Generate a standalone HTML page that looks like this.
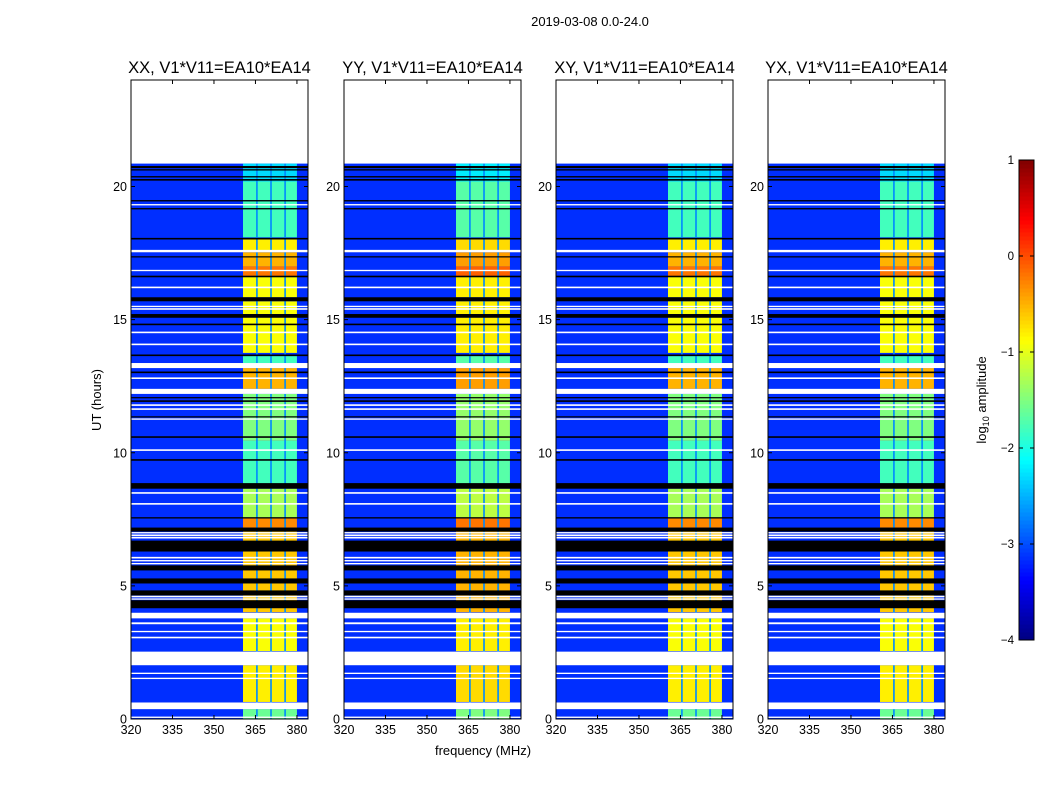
<!DOCTYPE html>
<html><head><meta charset="utf-8">
<style>
body{margin:0;background:#fff;font-family:"Liberation Sans",sans-serif;}
svg text{font-family:"Liberation Sans",sans-serif;}
</style></head>
<body>
<svg id="fig" width="1050" height="800" xmlns="http://www.w3.org/2000/svg">
<rect width="1050" height="800" fill="#fff"/>
<text x="590" y="26" font-size="13" text-anchor="middle">2019-03-08 0.0-24.0</text>
<text transform="translate(101,400) rotate(-90)" font-size="13" text-anchor="middle">UT (hours)</text>
<text x="483" y="755" font-size="13" text-anchor="middle">frequency (MHz)</text>
<g id="panels"></g>
<g id="cbar"></g>
</svg>
<script>
const panelTitles=["XX, V1*V11=EA10*EA14","YY, V1*V11=EA10*EA14","XY, V1*V11=EA10*EA14","YX, V1*V11=EA10*EA14"];
const panelBandOffset=[0,0.1,0,0];
const bgLevel=-3.15;
const dataEnd=20.86;
const bandFreqStart=360.5, bandFreqEnd=380;
const bandGapFreqs=[365.2,370.3,375.4];
const xTicks=[320,335,350,365,380];
const yTicks=[0,5,10,15,20];
const cbTicks=[1,0,-1,-2,-3,-4];
const cbTickLabels=["1","0","\u22121","\u22122","\u22123","\u22124"];
const bandStart=[0,0.64,2.55,4.01,7.19,7.57,8.84,10.45,12.40,13.37,13.75,15.21,15.84,16.63,17.0,17.60,18.09,20.19];
const bandEnd=[0.37,2.02,3.78,7.04,7.53,8.65,10.45,12.21,13.18,13.63,15.09,15.69,16.63,17.0,17.53,18.01,20.19,20.86];
const bandLevel=[-1.6,-0.8,-0.9,-0.6,-0.3,-1.3,-1.8,-1.5,-0.5,-1.8,-0.9,-0.9,-0.9,-0.2,-0.5,-0.8,-1.8,-2.3];
const flagStart=[20.69,20.60,20.34,20.22,19.44,19.29,19.14,18.01,17.53,17.34,16.82,16.59,16.18,15.69,15.47,15.37,15.07,14.79,14.49,14.04,13.63,13.18,12.99,12.77,12.21,12.06,11.91,11.76,11.61,11.33,11.24,10.56,10.07,9.70,8.65,8.46,8.05,7.53,7.04,6.97,6.87,6.78,6.29,6.03,5.92,5.81,5.58,5.09,4.64,4.57,4.48,4.16,3.78,3.56,3.26,3.03,2.02,1.69,1.50,0.37,0.04];
const flagEnd=[20.77,20.65,20.39,20.28,19.49,19.34,19.19,18.07,17.62,17.38,16.87,16.65,16.24,15.84,15.52,15.43,15.21,14.85,14.55,14.10,13.69,13.37,13.05,12.83,12.40,12.09,11.97,11.82,11.67,11.37,11.29,10.62,10.13,9.76,8.86,8.52,8.11,7.58,7.19,7.02,6.93,6.84,6.70,6.09,5.97,5.86,5.77,5.28,4.83,4.63,4.53,4.46,3.99,3.63,3.31,3.09,2.53,1.74,1.55,0.62,0.09];
const flagType=["k","k","k","k","k","w","k","k","w","k","w","k","w","k","w","w","k","k","w","w","k","w","k","w","w","k","k","w","w","k","w","k","w","k","k","w","w","k","k","w","w","w","k","w","w","w","k","k","k","w","w","k","w","w","w","w","w","w","w","w","w"];

const NS="http://www.w3.org/2000/svg";
function jet(v){let t=Math.max(0,Math.min(1,(v+4)/5));
 const f=x=>Math.max(0,Math.min(1,x));
 const r=f(1.5-Math.abs(4*t-3)),g=f(1.5-Math.abs(4*t-2)),b=f(1.5-Math.abs(4*t-1));
 return `rgb(${Math.round(r*255)},${Math.round(g*255)},${Math.round(b*255)})`;}
function el(tag,attrs,parent){const e=document.createElementNS(NS,tag);for(const k in attrs)e.setAttribute(k,attrs[k]);parent.appendChild(e);return e;}
const panelX=[131,344,556,768], PW=177, PT=80, PB=719;
const root=document.getElementById('panels');
panelX.forEach((x0,pi)=>{
 const g=el('g',{},root);
 
 
 const xs=f=>x0+(f-320)/64*PW;
 const ys=h=>PB-(h/24)*(PB-PT);
 el('rect',{x:x0,y:ys(dataEnd),width:PW,height:PB-ys(dataEnd),fill:jet(bgLevel)},g);
 for(let i=0;i<bandStart.length;i++){
  const r=el('rect',{x:xs(bandFreqStart),y:ys(bandEnd[i]),width:xs(bandFreqEnd)-xs(bandFreqStart),height:ys(bandStart[i])-ys(bandEnd[i]),fill:jet(bandLevel[i]+panelBandOffset[pi])},g);
  
  
 }
 bandGapFreqs.forEach(f=>{el('rect',{x:xs(f),y:ys(dataEnd),width:1.8,height:PB-ys(dataEnd),fill:jet(-2.7),opacity:0.9},g);});
 for(let i=0;i<flagStart.length;i++){
  const r=el('rect',{x:x0,y:ys(flagEnd[i]),width:PW,height:Math.max(1.2,ys(flagStart[i])-ys(flagEnd[i])),fill:flagType[i]==='w'?'#fff':'#000'},g);
  
  
 }
 el('rect',{x:x0,y:PT,width:PW,height:PB-PT,fill:'none',stroke:'#000','stroke-width':1},g);
 xTicks.forEach(t=>{const x=xs(t);
  el('line',{x1:x,x2:x,y1:PB,y2:PB-4,stroke:'#000'},g);
  el('line',{x1:x,x2:x,y1:PT,y2:PT+4,stroke:'#000'},g);
  const tx=el('text',{x:x,y:PB+15,'font-size':12.5,'text-anchor':'middle'},g);tx.textContent=t;
  
  });
 yTicks.forEach(t=>{const y=ys(t);
  el('line',{x1:x0,x2:x0+4,y1:y,y2:y,stroke:'#000'},g);
  el('line',{x1:x0+PW,x2:x0+PW-4,y1:y,y2:y,stroke:'#000'},g);
  const tx=el('text',{x:x0-4,y:y+4.5,'font-size':12.5,'text-anchor':'end'},g);tx.textContent=t;
  
  });
 const tt=el('text',{x:x0+PW/2,y:PT-7,'font-size':16.5,'text-anchor':'middle'},g);tt.textContent=panelTitles[pi];
 
 
});
const cb=document.getElementById('cbar');
const cx=1019,cw=15,cy0=160,cy1=640;
const cs=v=>cy1-(v+4)/5*(cy1-cy0);
for(let i=0;i<120;i++){const v0=-4+i*5/120,v1=-4+(i+1)*5/120;
 el('rect',{x:cx,y:cs(v1),width:cw,height:cs(v0)-cs(v1)+0.5,fill:jet((v0+v1)/2)},cb);}
el('rect',{x:cx,y:cy0,width:cw,height:cy1-cy0,fill:'none',stroke:'#000'},cb);
cbTicks.forEach((t,i)=>{const y=cs(t);
 el('line',{x1:cx,x2:cx+4,y1:y,y2:y,stroke:'#000'},cb);
 el('line',{x1:cx+cw,x2:cx+cw-4,y1:y,y2:y,stroke:'#000'},cb);
 const tx=el('text',{x:cx-5,y:y+4,'font-size':11.5,'text-anchor':'end'},cb);tx.textContent=cbTickLabels[i];
 
 });
const lab=el('text',{transform:'translate(986,400) rotate(-90)','font-size':13,'text-anchor':'middle'},cb);
lab.innerHTML='log<tspan font-size="9" dy="3">10</tspan><tspan dy="-3"> amplitude</tspan>';


</script>
</body></html>
